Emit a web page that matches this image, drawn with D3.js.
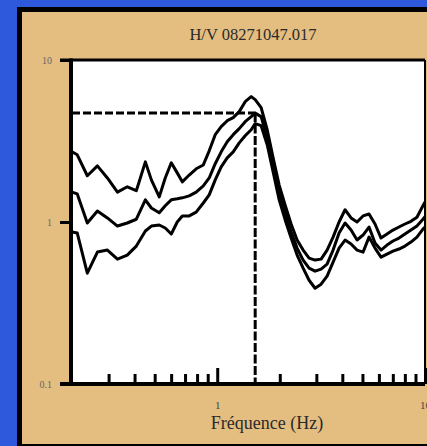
<!DOCTYPE html>
<html>
<head>
<meta charset="utf-8">
<script src="https://cdn.jsdelivr.net/npm/d3@7"></script>
<style>
  html, body { margin: 0; padding: 0; background: #2f59dc; overflow: hidden; }
  svg { display: block; }
</style>
</head>
<body>
<script>
// H/V spectral ratio: mean curve with +/- one standard deviation curves
const titleText = "H/V 08271047.017";
const xLabelText = "Fréquence (Hz)";

const freqs = [0.2, 0.212, 0.237, 0.265, 0.296, 0.331, 0.369, 0.408, 0.451, 0.482,
  0.526, 0.562, 0.601, 0.642, 0.679, 0.733, 0.792, 0.857, 0.915, 0.978,
  1.045, 1.117, 1.194, 1.276, 1.363, 1.457, 1.523, 1.627, 1.740, 1.858,
  1.987, 2.123, 2.268, 2.424, 2.591, 2.768, 2.958, 3.162, 3.379, 3.611,
  3.859, 4.124, 4.407, 4.710, 5.033, 5.378, 5.747, 6.141, 6.563, 7.014,
  7.495, 8.010, 8.559, 9.147, 9.775, 10.0];

const hvUpper = [2.71, 2.60, 1.93, 2.22, 1.87, 1.53, 1.65, 1.56, 2.35, 1.82,
  1.43, 1.87, 2.32, 2.01, 1.77, 1.95, 2.13, 2.25, 2.75, 3.46,
  3.88, 4.22, 4.41, 4.80, 5.53, 5.94, 5.69, 5.08, 3.71, 2.49,
  1.69, 1.27, 0.972, 0.774, 0.671, 0.598, 0.582, 0.590, 0.671, 0.807,
  1.00, 1.19, 1.06, 1.00, 1.09, 1.12, 0.972, 0.796, 0.843, 0.892,
  0.931, 0.972, 1.01, 1.07, 1.26, 1.33];

const hvMean = [1.53, 1.49, 0.986, 1.17, 1.06, 0.944, 0.986, 1.04, 1.37, 1.22,
  1.14, 1.26, 1.37, 1.39, 1.41, 1.45, 1.53, 1.67, 1.87, 2.29,
  2.71, 3.13, 3.46, 3.77, 4.16, 4.47, 4.70, 4.47, 3.31, 2.25,
  1.53, 1.15, 0.867, 0.690, 0.582, 0.519, 0.497, 0.512, 0.549, 0.671,
  0.855, 0.986, 0.892, 0.774, 0.831, 0.931, 0.741, 0.671, 0.720, 0.763,
  0.796, 0.843, 0.892, 0.944, 1.04, 1.08];

const hvLower = [0.867, 0.855, 0.483, 0.652, 0.671, 0.590, 0.625, 0.710, 0.880, 0.944,
  0.958, 0.918, 0.843, 1.00, 1.09, 1.09, 1.15, 1.31, 1.47, 1.82,
  2.19, 2.49, 2.71, 3.08, 3.41, 3.71, 4.05, 3.93, 3.00, 2.04,
  1.37, 1.03, 0.796, 0.625, 0.519, 0.437, 0.390, 0.413, 0.463, 0.565,
  0.690, 0.774, 0.731, 0.671, 0.652, 0.807, 0.690, 0.607, 0.634, 0.661,
  0.681, 0.710, 0.752, 0.807, 0.905, 0.93];

// Peak of the mean curve, marked by the dashed guide lines
const peakFreq = 1.523;
const peakAmp = 4.70;

const xMajorTicks = [1, 10];
const xMinorTicks = [0.3, 0.4, 0.5, 0.6, 0.7, 0.8, 0.9, 2, 3, 4, 5, 6, 7, 8, 9];
const yTicks = [0.1, 1, 10];
const yTickLabels = ["0.1", "1", "10"];

const W = 427, H = 446;
const svg = d3.select("body").append("svg").attr("width", W).attr("height", H);

// panel
svg.append("rect").attr("x", 0).attr("y", 0).attr("width", W).attr("height", H).attr("fill", "#2f59dc");
svg.append("rect")
  .attr("x", 19.5).attr("y", 9.5).attr("width", 460).attr("height", 437)
  .attr("fill", "#e4bd80").attr("stroke", "#000").attr("stroke-width", 5);

const x = d3.scaleLog().domain([0.2, 10]).range([72, 425]);
const y = d3.scaleLog().domain([0.1, 10]).range([384, 60]);

// plot area
svg.append("rect")
  .attr("x", x.range()[0]).attr("y", y.range()[1])
  .attr("width", x.range()[1] - x.range()[0]).attr("height", y.range()[0] - y.range()[1])
  .attr("fill", "#fff");

svg.append("defs").append("clipPath").attr("id", "plotClip")
  .append("rect")
  .attr("x", x.range()[0]).attr("y", y.range()[1])
  .attr("width", x.range()[1] - x.range()[0]).attr("height", y.range()[0] - y.range()[1]);

// title
svg.append("text")
  .attr("x", 253).attr("y", 40)
  .attr("text-anchor", "middle")
  .attr("font-family", "Liberation Serif, Times New Roman, serif")
  .attr("font-size", 16.5)
  .attr("fill", "#2a2a2a")
  .text(titleText);

// dashed guides at the peak
const guides = svg.append("g").attr("clip-path", "url(#plotClip)");
guides.append("line")
  .attr("x1", x(0.2)).attr("x2", x(peakFreq))
  .attr("y1", y(peakAmp)).attr("y2", y(peakAmp))
  .attr("stroke", "#000").attr("stroke-width", 3).attr("stroke-dasharray", "8,3");
guides.append("line")
  .attr("x1", x(peakFreq)).attr("x2", x(peakFreq))
  .attr("y1", y(peakAmp)).attr("y2", y(0.1))
  .attr("stroke", "#000").attr("stroke-width", 3).attr("stroke-dasharray", "9,2.5");

// curves
const line = d3.line()
  .x((d, i) => x(freqs[i]))
  .y(d => y(d));

const curves = svg.append("g").attr("clip-path", "url(#plotClip)");
[hvUpper, hvMean, hvLower].forEach(series => {
  curves.append("path")
    .datum(series)
    .attr("d", line)
    .attr("fill", "none")
    .attr("stroke", "#000")
    .attr("stroke-width", 3)
    .attr("stroke-linejoin", "round");
});

// frame: top and right
svg.append("line")
  .attr("x1", 60).attr("x2", x.range()[1])
  .attr("y1", y(10)).attr("y2", y(10))
  .attr("stroke", "#000").attr("stroke-width", 3);
svg.append("line")
  .attr("x1", x.range()[1]).attr("x2", x.range()[1])
  .attr("y1", y(10)).attr("y2", y(0.1))
  .attr("stroke", "#000").attr("stroke-width", 2);

// x axis: inward minor and major ticks
const xMinorAxis = d3.axisBottom(x).tickValues(xMinorTicks).tickSizeInner(-10).tickSizeOuter(0).tickFormat("");
const gxMinor = svg.append("g").attr("transform", `translate(0,${y(0.1)})`).call(xMinorAxis);
gxMinor.select(".domain").remove();
gxMinor.selectAll(".tick line").attr("stroke", "#000").attr("stroke-width", 3);

const xMajorAxis = d3.axisBottom(x).tickValues(xMajorTicks).tickSizeInner(-16).tickSizeOuter(0)
  .tickPadding(17).tickFormat(d3.format("~g"));
const gxMajor = svg.append("g").attr("transform", `translate(0,${y(0.1)})`).call(xMajorAxis);
gxMajor.select(".domain").remove();
gxMajor.selectAll(".tick line").attr("stroke", "#000").attr("stroke-width", 3);
gxMajor.selectAll(".tick text")
  .attr("font-family", "Liberation Serif, Times New Roman, serif")
  .attr("font-size", 11).attr("fill", "#444");

// y axis
const yAxis = d3.axisLeft(y).tickValues(yTicks).tickSizeInner(12).tickSizeOuter(0)
  .tickPadding(8).tickFormat((d, i) => yTickLabels[i]);
const gy = svg.append("g").attr("transform", `translate(${x.range()[0]},0)`).call(yAxis);
gy.select(".domain").remove();
gy.selectAll(".tick line").attr("stroke", "#000").attr("stroke-width", 3);
gy.selectAll(".tick text")
  .attr("font-family", "Liberation Serif, Times New Roman, serif")
  .attr("font-size", 10).attr("fill", "#666");

// axis lines
svg.append("line")
  .attr("x1", x.range()[0] - 1).attr("x2", x.range()[0] - 1)
  .attr("y1", y(10) - 1.5).attr("y2", y(0.1) + 2)
  .attr("stroke", "#000").attr("stroke-width", 4);
svg.append("line")
  .attr("x1", 60).attr("x2", x.range()[1])
  .attr("y1", y(0.1)).attr("y2", y(0.1))
  .attr("stroke", "#000").attr("stroke-width", 4);

// x axis title
svg.append("text")
  .attr("x", 267).attr("y", 429)
  .attr("text-anchor", "middle")
  .attr("font-family", "Liberation Serif, Times New Roman, serif")
  .attr("font-size", 18)
  .attr("fill", "#2a2a2a")
  .text(xLabelText);
</script>
</body>
</html>
